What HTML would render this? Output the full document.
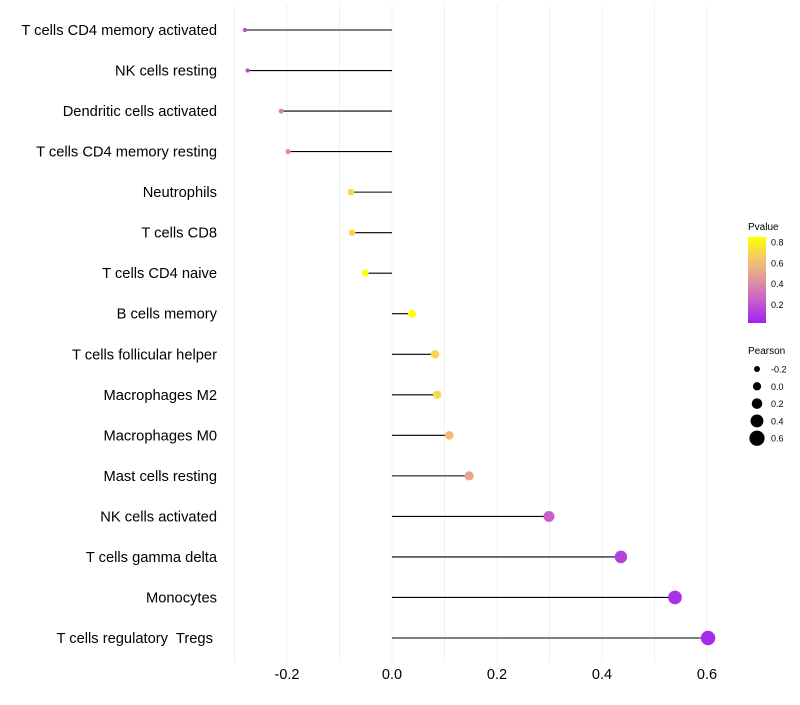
<!DOCTYPE html>
<html><head><meta charset="utf-8"><style>
body{margin:0;background:#fff;font-family:"Liberation Sans",sans-serif;}
svg text{font-family:"Liberation Sans",sans-serif;white-space:pre;}
</style></head><body>
<svg id="c" width="800" height="700">
<defs><linearGradient id="pg" x1="0" y1="1" x2="0" y2="0">
<stop offset="0" stop-color="#A020F0"/><stop offset="0.25" stop-color="#C65CCB"/>
<stop offset="0.5" stop-color="#E0959F"/><stop offset="0.75" stop-color="#F3C76A"/>
<stop offset="1" stop-color="#FFFF00"/></linearGradient></defs>
<g id="grid"></g><g id="marks"></g><g id="labels"></g>
<g id="legend">
<text x="748" y="230" font-size="10" fill="#000">Pvalue</text>
<rect x="748" y="237" width="18" height="86" fill="url(#pg)"/>
<text x="748" y="354" font-size="10" fill="#000">Pearson</text>
</g>
</svg>
<script>
const categories=["T cells CD4 memory activated","NK cells resting","Dendritic cells activated","T cells CD4 memory resting","Neutrophils","T cells CD8","T cells CD4 naive","B cells memory","T cells follicular helper","Macrophages M2","Macrophages M0","Mast cells resting","NK cells activated","T cells gamma delta","Monocytes","T cells regulatory  Tregs "];
const pearson=[-0.28,-0.275,-0.211,-0.198,-0.078,-0.076,-0.051,0.038,0.082,0.086,0.109,0.147,0.299,0.436,0.539,0.602];
const pvalue=[0.15,0.15,0.35,0.38,0.7,0.7,0.85,0.86,0.7,0.7,0.6,0.5,0.22,0.12,0.06,0.04];
const xTicks=[-0.2,0,0.2,0.4,0.6];
const xTickLabels=["-0.2","0.0","0.2","0.4","0.6"];
const legendSizes=[-0.2,0,0.2,0.4,0.6];
const legendSizeLabels=["-0.2","0.0","0.2","0.4","0.6"];
const pTicks=[0.2,0.4,0.6,0.8];
const NS="http://www.w3.org/2000/svg";
const X=v=>392+v*525;
const Y=i=>30+i*(608/15);
const R=v=>2.1+(v+0.28)*5.8;
const PY=p=>237+(0.85-p)/0.83*86;
const stops=[[0,[160,32,240]],[0.25,[198,92,203]],[0.5,[224,149,159]],[0.75,[243,199,106]],[1,[255,255,0]]];
function col(p){let t=Math.max(0,Math.min(1,p/0.85));for(let k=1;k<stops.length;k++){if(t<=stops[k][0]){const a=stops[k-1],b=stops[k],f=(t-a[0])/(b[0]-a[0]);return "rgb("+a[1].map((c,j)=>Math.round(c+(b[1][j]-c)*f)).join(",")+")";}}return "rgb(255,255,0)";}
function mk(tag,at,parent){const e=document.createElementNS(NS,tag);for(const k in at)e.setAttribute(k,at[k]);parent.appendChild(e);return e;}
const grid=document.getElementById('grid'),marks=document.getElementById('marks'),labels=document.getElementById('labels'),legend=document.getElementById('legend');
for(let v=-0.3;v<=0.61;v+=0.1){const l=mk('line',{x1:X(v),x2:X(v),y1:5,y2:662,stroke:'#f0f0f0','stroke-width':1},grid);

}
xTicks.forEach((v,i)=>{const t=mk('text',{x:X(v),y:679,'font-size':14.5,'text-anchor':'middle',fill:'#000'},labels);t.textContent=xTickLabels[i];

});
categories.forEach((c,i)=>{const t=mk('text',{x:217,y:Y(i)+5,'font-size':14.7,'text-anchor':'end',fill:'#000'},labels);t.textContent=c;


const l=mk('line',{x1:X(0),x2:X(pearson[i]),y1:Y(i),y2:Y(i),stroke:'#000','stroke-width':1.1},marks);


const d=mk('circle',{cx:X(pearson[i]),cy:Y(i),r:R(pearson[i]),fill:col(pvalue[i])},marks);

});
pTicks.forEach(p=>{const t=mk('text',{x:771,y:PY(p)+3.5,'font-size':9,fill:'#000'},legend);t.textContent=p.toFixed(1);

});
legendSizes.forEach((v,i)=>{const y=369+i*17.3;const c=mk('circle',{cx:757,cy:y,r:R(v)+0.4,fill:'#000'},legend);


const t=mk('text',{x:771,y:y+3.5,'font-size':9,fill:'#000'},legend);t.textContent=legendSizeLabels[i];

});
</script>
</body></html>
